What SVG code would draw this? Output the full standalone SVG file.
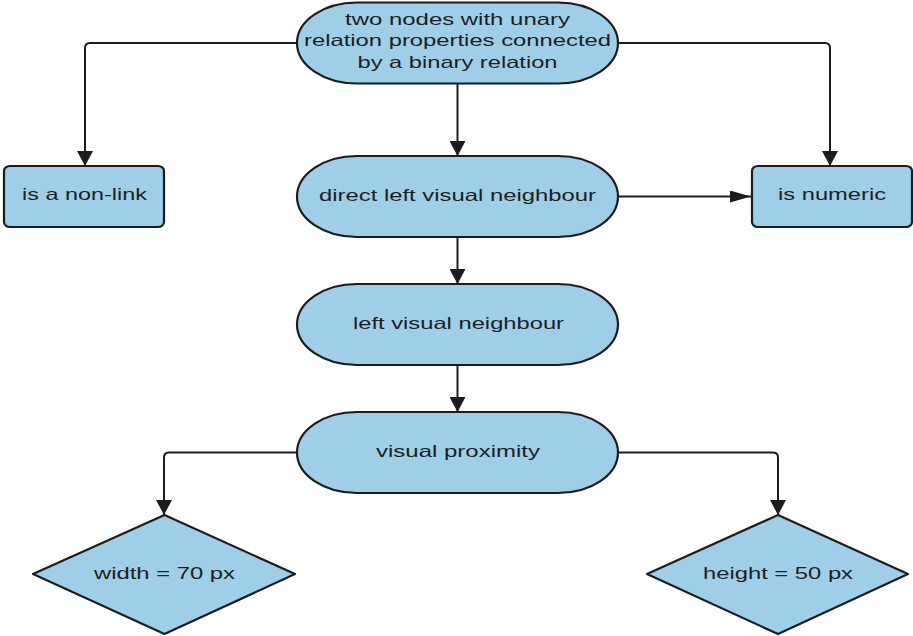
<svg xmlns="http://www.w3.org/2000/svg" width="913" height="636" viewBox="0 0 913 636">
<style>
.n{fill:#9fcfe8;stroke:#1c1c1c;stroke-width:2.2;stroke-linejoin:round}
.t{font-family:"Liberation Sans",Arial,sans-serif;font-size:16.5px;fill:#1e1e1e;text-anchor:middle}
.c{fill:none;stroke:#1c1c1c;stroke-width:2}
</style>
<defs>
<marker id="arrV" markerUnits="userSpaceOnUse" viewBox="0 0 15 16" markerWidth="15" markerHeight="16" refX="15" refY="8" orient="auto"><path d="M0,0 L15,8 L0,16 z" fill="#1c1c1c"/></marker>
<marker id="arrH" markerUnits="userSpaceOnUse" viewBox="0 0 21 12" markerWidth="21" markerHeight="12" refX="21" refY="6" orient="auto"><path d="M0,0 L21,6 L0,12 z" fill="#1c1c1c"/></marker>
</defs>
<rect width="913" height="636" fill="#ffffff"/>
<g id="connectors">
<path class="c" d="M297,43 H90 Q85,43 85,48 V166" marker-end="url(#arrV)"/>
<path class="c" d="M618,43 H825 Q830,43 830,48 V166" marker-end="url(#arrV)"/>
<path class="c" d="M457.5,83 V156" marker-end="url(#arrV)"/>
<path class="c" d="M618,196.5 H751" marker-end="url(#arrH)"/>
<path class="c" d="M457.5,237 V284" marker-end="url(#arrV)"/>
<path class="c" d="M457.5,365 V412" marker-end="url(#arrV)"/>
<path class="c" d="M297,452.5 H169 Q164,452.5 164,457.5 V515" marker-end="url(#arrV)"/>
<path class="c" d="M618,452.5 H773 Q778,452.5 778,457.5 V515" marker-end="url(#arrV)"/>
</g>
<g id="n_top">
<rect class="n" x="297" y="2.5" width="321" height="81" rx="60" ry="40.5"/>
<text class="t" x="457.5" y="24.5" textLength="225" lengthAdjust="spacingAndGlyphs">two nodes with unary</text>
<text class="t" x="457.5" y="46" textLength="307" lengthAdjust="spacingAndGlyphs">relation properties connected</text>
<text class="t" x="457.5" y="67.5" textLength="200" lengthAdjust="spacingAndGlyphs">by a binary relation</text>
</g>
<g id="n_nonlink">
<rect class="n" x="4" y="166" width="160" height="61" rx="6" ry="5"/>
<text class="t" x="84.5" y="200" textLength="125" lengthAdjust="spacingAndGlyphs">is a non-link</text>
</g>
<g id="n_numeric">
<rect class="n" x="752" y="166" width="160" height="61" rx="6" ry="5"/>
<text class="t" x="832" y="200" textLength="108" lengthAdjust="spacingAndGlyphs">is numeric</text>
</g>
<g id="n_direct">
<rect class="n" x="297" y="156" width="321" height="81" rx="60" ry="40.5"/>
<text class="t" x="457.5" y="201" textLength="277" lengthAdjust="spacingAndGlyphs">direct left visual neighbour</text>
</g>
<g id="n_left">
<rect class="n" x="297" y="284" width="321" height="81" rx="60" ry="40.5"/>
<text class="t" x="458.5" y="329" textLength="211" lengthAdjust="spacingAndGlyphs">left visual neighbour</text>
</g>
<g id="n_prox">
<rect class="n" x="297" y="412" width="321" height="81" rx="60" ry="40.5"/>
<text class="t" x="458" y="457" textLength="164" lengthAdjust="spacingAndGlyphs">visual proximity</text>
</g>
<g id="n_width">
<polygon class="n" points="164.5,515 295,574 164.5,634 33,574"/>
<text class="t" x="164.5" y="579" textLength="141" lengthAdjust="spacingAndGlyphs">width = 70 px</text>
</g>
<g id="n_height">
<polygon class="n" points="778,515 908,574 778,634 647,574"/>
<text class="t" x="778" y="579" textLength="150" lengthAdjust="spacingAndGlyphs">height = 50 px</text>
</g>
</svg>
